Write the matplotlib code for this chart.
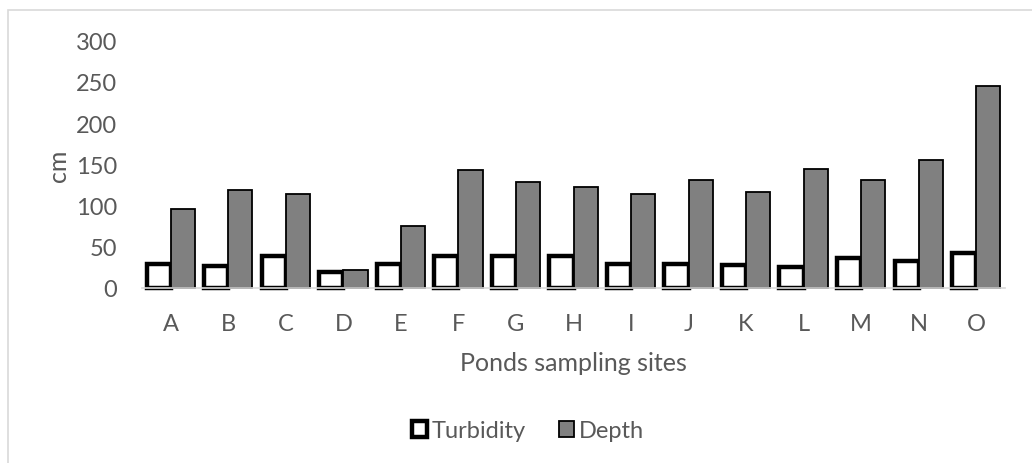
import matplotlib.pyplot as plt
import numpy as np
from matplotlib.patches import Rectangle

sites = ["A", "B", "C", "D", "E", "F", "G", "H", "I", "J", "K", "L", "M", "N", "O"]
turbidity = [29, 27, 39, 19, 29, 39, 39, 39, 29, 29, 28, 25, 36, 33, 43]
depth = [96, 119, 114, 22, 75, 143, 128, 122, 114, 131, 117, 144, 131, 155, 245]
yticks = [0, 50, 100, 150, 200, 250, 300]

TEXT = "#595959"
plt.rcParams["font.family"] = ["Lato", "DejaVu Sans"]

fig = plt.figure(figsize=(10.32, 4.64), dpi=100)
W, H = 1032, 464

# chart-area frame, only the top and left edges fall inside the canvas
fig.patches.append(Rectangle((8 / W, -0.1), 1.2, 1 - 11 / H + 0.1,
                             transform=fig.transFigure, fill=False,
                             edgecolor="#d9d9d9", linewidth=1.2))

ax = fig.add_axes([142 / W, 1 - 289 / H, (1005 - 142) / W, (289 - 41.7) / H])

x = np.arange(len(sites))
bw = 0.42
b1 = ax.bar(x - bw / 2, turbidity, bw, color="white", edgecolor="black",
            linewidth=3.2, label="Turbidity", zorder=2)
b2 = ax.bar(x + bw / 2, depth, bw, color="#808080", edgecolor="black",
            linewidth=1.3, label="Depth", zorder=2)
for p in list(b1) + list(b2):
    p.set_clip_on(False)

ax.set_xlim(-0.5, len(sites) - 0.5)
ax.set_ylim(0, 300)
ax.set_yticks(yticks)
ax.set_xticks(x)
ax.set_xticklabels(sites)
ax.tick_params(axis="both", length=0, labelsize=17, colors=TEXT)
ax.tick_params(axis="y", pad=18)
ax.tick_params(axis="x", pad=18)

for s in ["top", "right", "left"]:
    ax.spines[s].set_visible(False)
ax.spines["bottom"].set_color("#d9d9d9")
ax.spines["bottom"].set_linewidth(1.2)
ax.spines["bottom"].set_zorder(3)

ax.set_ylabel("cm", fontsize=18, color=TEXT, labelpad=4)
ax.set_xlabel("Ponds sampling sites", fontsize=18, color=TEXT, labelpad=12)

fig.legend(handles=[b1, b2], loc="center", bbox_to_anchor=(528 / W, 1 - 432 / H),
           ncol=2, frameon=False, fontsize=17, labelcolor=TEXT,
           handlelength=0.65, handleheight=0.65, handletextpad=0.2,
           columnspacing=1.4)

fig.savefig("out.png", dpi=100)
